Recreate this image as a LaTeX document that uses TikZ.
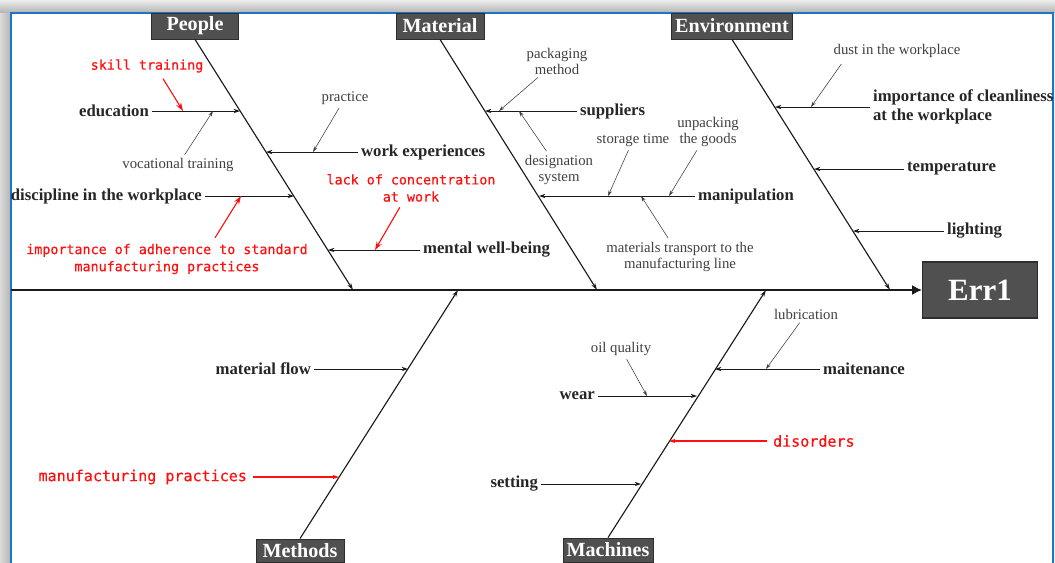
\documentclass[tikz,border=0pt]{standalone}
\usepackage{fontspec}
\setmainfont{Liberation Serif}
\newfontfamily\redmono[FakeBold=0.5]{DejaVu Sans Mono}
\usetikzlibrary{arrows.meta,calc}
\newcommand{\pix}{0.25mm}
\definecolor{cFrame}{HTML}{1C75C8}
\definecolor{cShadeTop}{HTML}{EDEDED}
\definecolor{cShadeBot}{HTML}{B2B2B2}
\definecolor{cBox}{HTML}{505050}
\definecolor{cBoxBorder}{HTML}{2E2E2E}
\definecolor{cLine}{HTML}{1A1A1A}
\definecolor{cText}{HTML}{262626}
\definecolor{cNote}{HTML}{404040}
\definecolor{cRed}{HTML}{FF1010}
\tikzset{
  frameLn/.style={draw=cFrame, line width=1.4pt},
  catBox/.style={draw=cBoxBorder, fill=cBox, text=white, line width=0.6pt,
                 font=\bfseries\fontsize{14.3}{16}\selectfont, inner sep=0pt,
                 minimum height=26*\pix},
  effBox/.style={draw=cBoxBorder, fill=cBox, text=white, line width=0.8pt,
                 font=\bfseries\fontsize{22}{24}\selectfont, inner sep=0pt,
                 minimum width=115*\pix, minimum height=56*\pix},
  lbl/.style={font=\bfseries\fontsize{11.9}{13.5}\selectfont, text=cText,
              inner sep=2pt, align=left},
  note/.style={font=\fontsize{10.5}{11.4}\selectfont, text=cNote,
               inner sep=1.5pt, align=center},
  redlbl/.style={font=\redmono\fontsize{9.5}{12.2}\selectfont, text=cRed,
                 inner sep=2pt, align=center},
  redbig/.style={redlbl, font=\redmono\fontsize{10.7}{12.8}\selectfont},
  spineLn/.style={draw=cLine, line width=1pt, -{Latex[length=7pt, width=7pt]}},
  boneLn/.style={draw=cLine, line width=0.8pt, -{Stealth[length=5pt, width=3pt]}},
  branchLn/.style={draw=cLine, line width=0.6pt, -{Stealth[length=4.5pt, width=3pt]}},
  subArr/.style={draw=cNote, line width=0.4pt, -{Stealth[length=4pt, width=2.5pt]}},
  redArr/.style={draw=cRed, line width=0.8pt, -{Stealth[length=6pt, width=4pt]}},
}

\begin{document}
\begin{tikzpicture}[x=0.25mm, y=-0.25mm]
\useasboundingbox (0,0) rectangle (1055,562);

% ========== FRAME ==========
\shade[top color=cShadeTop, bottom color=cShadeBot] (0,0) rectangle (1055,13);
\shade[left color=cShadeTop!70!cShadeBot, right color=cShadeBot] (0,13) rectangle (11,562);
\fill[white] (11,13) rectangle (1053,562);
\fill[cShadeTop] (1054,13) rectangle (1055,562);
\draw[frameLn] (11,565) -- (11,13) -- (1053,13) -- (1053,565);

% ========== SPINE & EFFECT ==========
\node[effBox] (err) at (980,290) {Err1};
\coordinate (spineL) at (11,290);
\draw[spineLn] (spineL) -- (err.west);

% ========== CATEGORY BONES ==========
\node[catBox, minimum width=87*\pix]  (ppl)  at (195,26)    {People};
\node[catBox, minimum width=88*\pix]  (mat)  at (440,26)    {Material};
\node[catBox, minimum width=121*\pix] (env)  at (732,26)    {Environment};
\node[catBox, minimum width=88*\pix, minimum height=23*\pix]
  (meth) at (300,550.5) {Methods};
\node[catBox, minimum width=90*\pix, minimum height=24*\pix]
  (mach) at (608,550) {Machines};

\coordinate (pplE)  at (353,290);
\coordinate (matE)  at (597,290);
\coordinate (envE)  at (890,290);
\coordinate (methE) at (458,290);
\coordinate (machE) at (766,290);
\foreach \a/\b in {ppl/pplE, mat/matE, env/envE}
  \draw[boneLn] (\a.south) -- (\b);
\foreach \a/\b in {meth/methE, mach/machE}
  \draw[boneLn] (\a.north) -- (\b);

% ========== PEOPLE ==========
\node[lbl, anchor=east] (edu)    at (152,111) {education};
\node[lbl, anchor=west] (work)   at (358,152) {work experiences};
\node[lbl, anchor=east] (disc)   at (205,196) {discipline in the workplace};
\node[lbl, anchor=west] (mental) at (420,250) {mental well-being};
\coordinate (eduB)    at (240,111);
\coordinate (workB)   at (266,152);
\coordinate (discB)   at (294,196);
\coordinate (mentalB) at (328,250);

\node[note] (prac) at (345,98)  {practice};
\node[note] (voc)  at (178,165) {vocational training};
\coordinate (vocH)  at (213,111);
\coordinate (workH) at (313,152);

\node[redlbl] (skill) at (147,66)  {skill training};
\node[redlbl] (adh)   at (167,259) {importance of adherence to standard\\manufacturing practices};
\node[redlbl] (conc)  at (411,188) {lack of concentration\\at work};
\coordinate (eduR)    at (183,111);
\coordinate (discR)   at (241,196);
\coordinate (mentalR) at (375,250);

% ========== MATERIAL ==========
\node[lbl, anchor=west] (sup) at (577,111) {suppliers};
\node[lbl, anchor=west] (man) at (695,196) {manipulation};
\coordinate (supB) at (485,111);
\coordinate (manB) at (539,196);

\node[note] (pack)  at (557,61)    {packaging\\method};
\node[note] (desig) at (559,169.5) {designation\\system};
\node[note] (stor)  at (633,140)   {storage time};
\node[note] (unpk)  at (708,132)   {unpacking\\the goods};
\node[note] (trans) at (680,256.5) {materials transport to the\\manufacturing line};
\coordinate (supH1) at (499,111);
\coordinate (supH2) at (519,111);
\coordinate (manH1) at (608,196);
\coordinate (manH2) at (669,196);
\coordinate (manH3) at (641,196);

% ========== ENVIRONMENT ==========
\node[lbl, anchor=west, font=\bfseries\fontsize{11.9}{13.6}\selectfont]
  (clean) at (870,107) {importance of cleanliness\\at the workplace};
\node[lbl, anchor=west] (temp)  at (904,169) {temperature};
\node[lbl, anchor=west] (light) at (944,231) {lighting};
\coordinate (cleanB) at (775,107);
\coordinate (tempB)  at (814,169);
\coordinate (lightB) at (853,231);

\node[note] (dust) at (897,51) {dust in the workplace};
\coordinate (cleanH) at (811,107);

% ========== METHODS ==========
\node[lbl, anchor=east] (flow) at (314,369) {material flow};
\node[redbig, anchor=east] (manuf) at (250,477) {manufacturing practices};
\coordinate (flowB)  at (408,369);
\coordinate (manufB) at (339,477);

% ========== MACHINES ==========
\node[lbl, anchor=west] (mai)  at (820,369) {maitenance};
\node[lbl, anchor=east] (wear) at (598,396) {wear};
\node[lbl, anchor=east] (set)  at (541,484) {setting};
\node[redbig, anchor=west] (dis) at (770,441) {disorders};
\coordinate (maiB)  at (715,369);
\coordinate (wearB) at (697,396);
\coordinate (setB)  at (641,484);
\coordinate (disB)  at (669,441);

\node[note] (lub) at (806,314) {lubrication};
\node[note] (oil) at (621,349) {oil quality};
\coordinate (maiH)  at (766,369);
\coordinate (wearH) at (647,396);

% ========== WIRING ==========
\foreach \a/\b in {edu/eduB, work/workB, disc/discB, mental/mentalB,
                   sup/supB, man/manB, clean/cleanB, temp/tempB, light/lightB,
                   flow/flowB, mai/maiB, wear/wearB, set/setB}
  \draw[branchLn] (\a) -- (\b);
\foreach \a/\b in {manuf/manufB, dis/disB}
  \draw[branchLn, draw=cRed, line width=0.8pt, shorten <=2pt] (\a) -- (\b);

\foreach \a/\b in {prac/workH, voc/vocH, pack/supH1, desig/supH2,
                   stor/manH1, unpk/manH2, trans/manH3, lub/maiH, oil/wearH}
  \draw[subArr, shorten <=1pt] (\a) -- (\b);
\draw[subArr] (dust.south west) ++(10,4) -- (cleanH);

\draw[redArr] (skill.south) ++(16,3) -- (eduR);
\draw[redArr] (adh.north) ++(48,-3) -- (discR);
\draw[redArr, shorten <=2pt] (conc) -- (mentalR);

\end{tikzpicture}
\end{document}
